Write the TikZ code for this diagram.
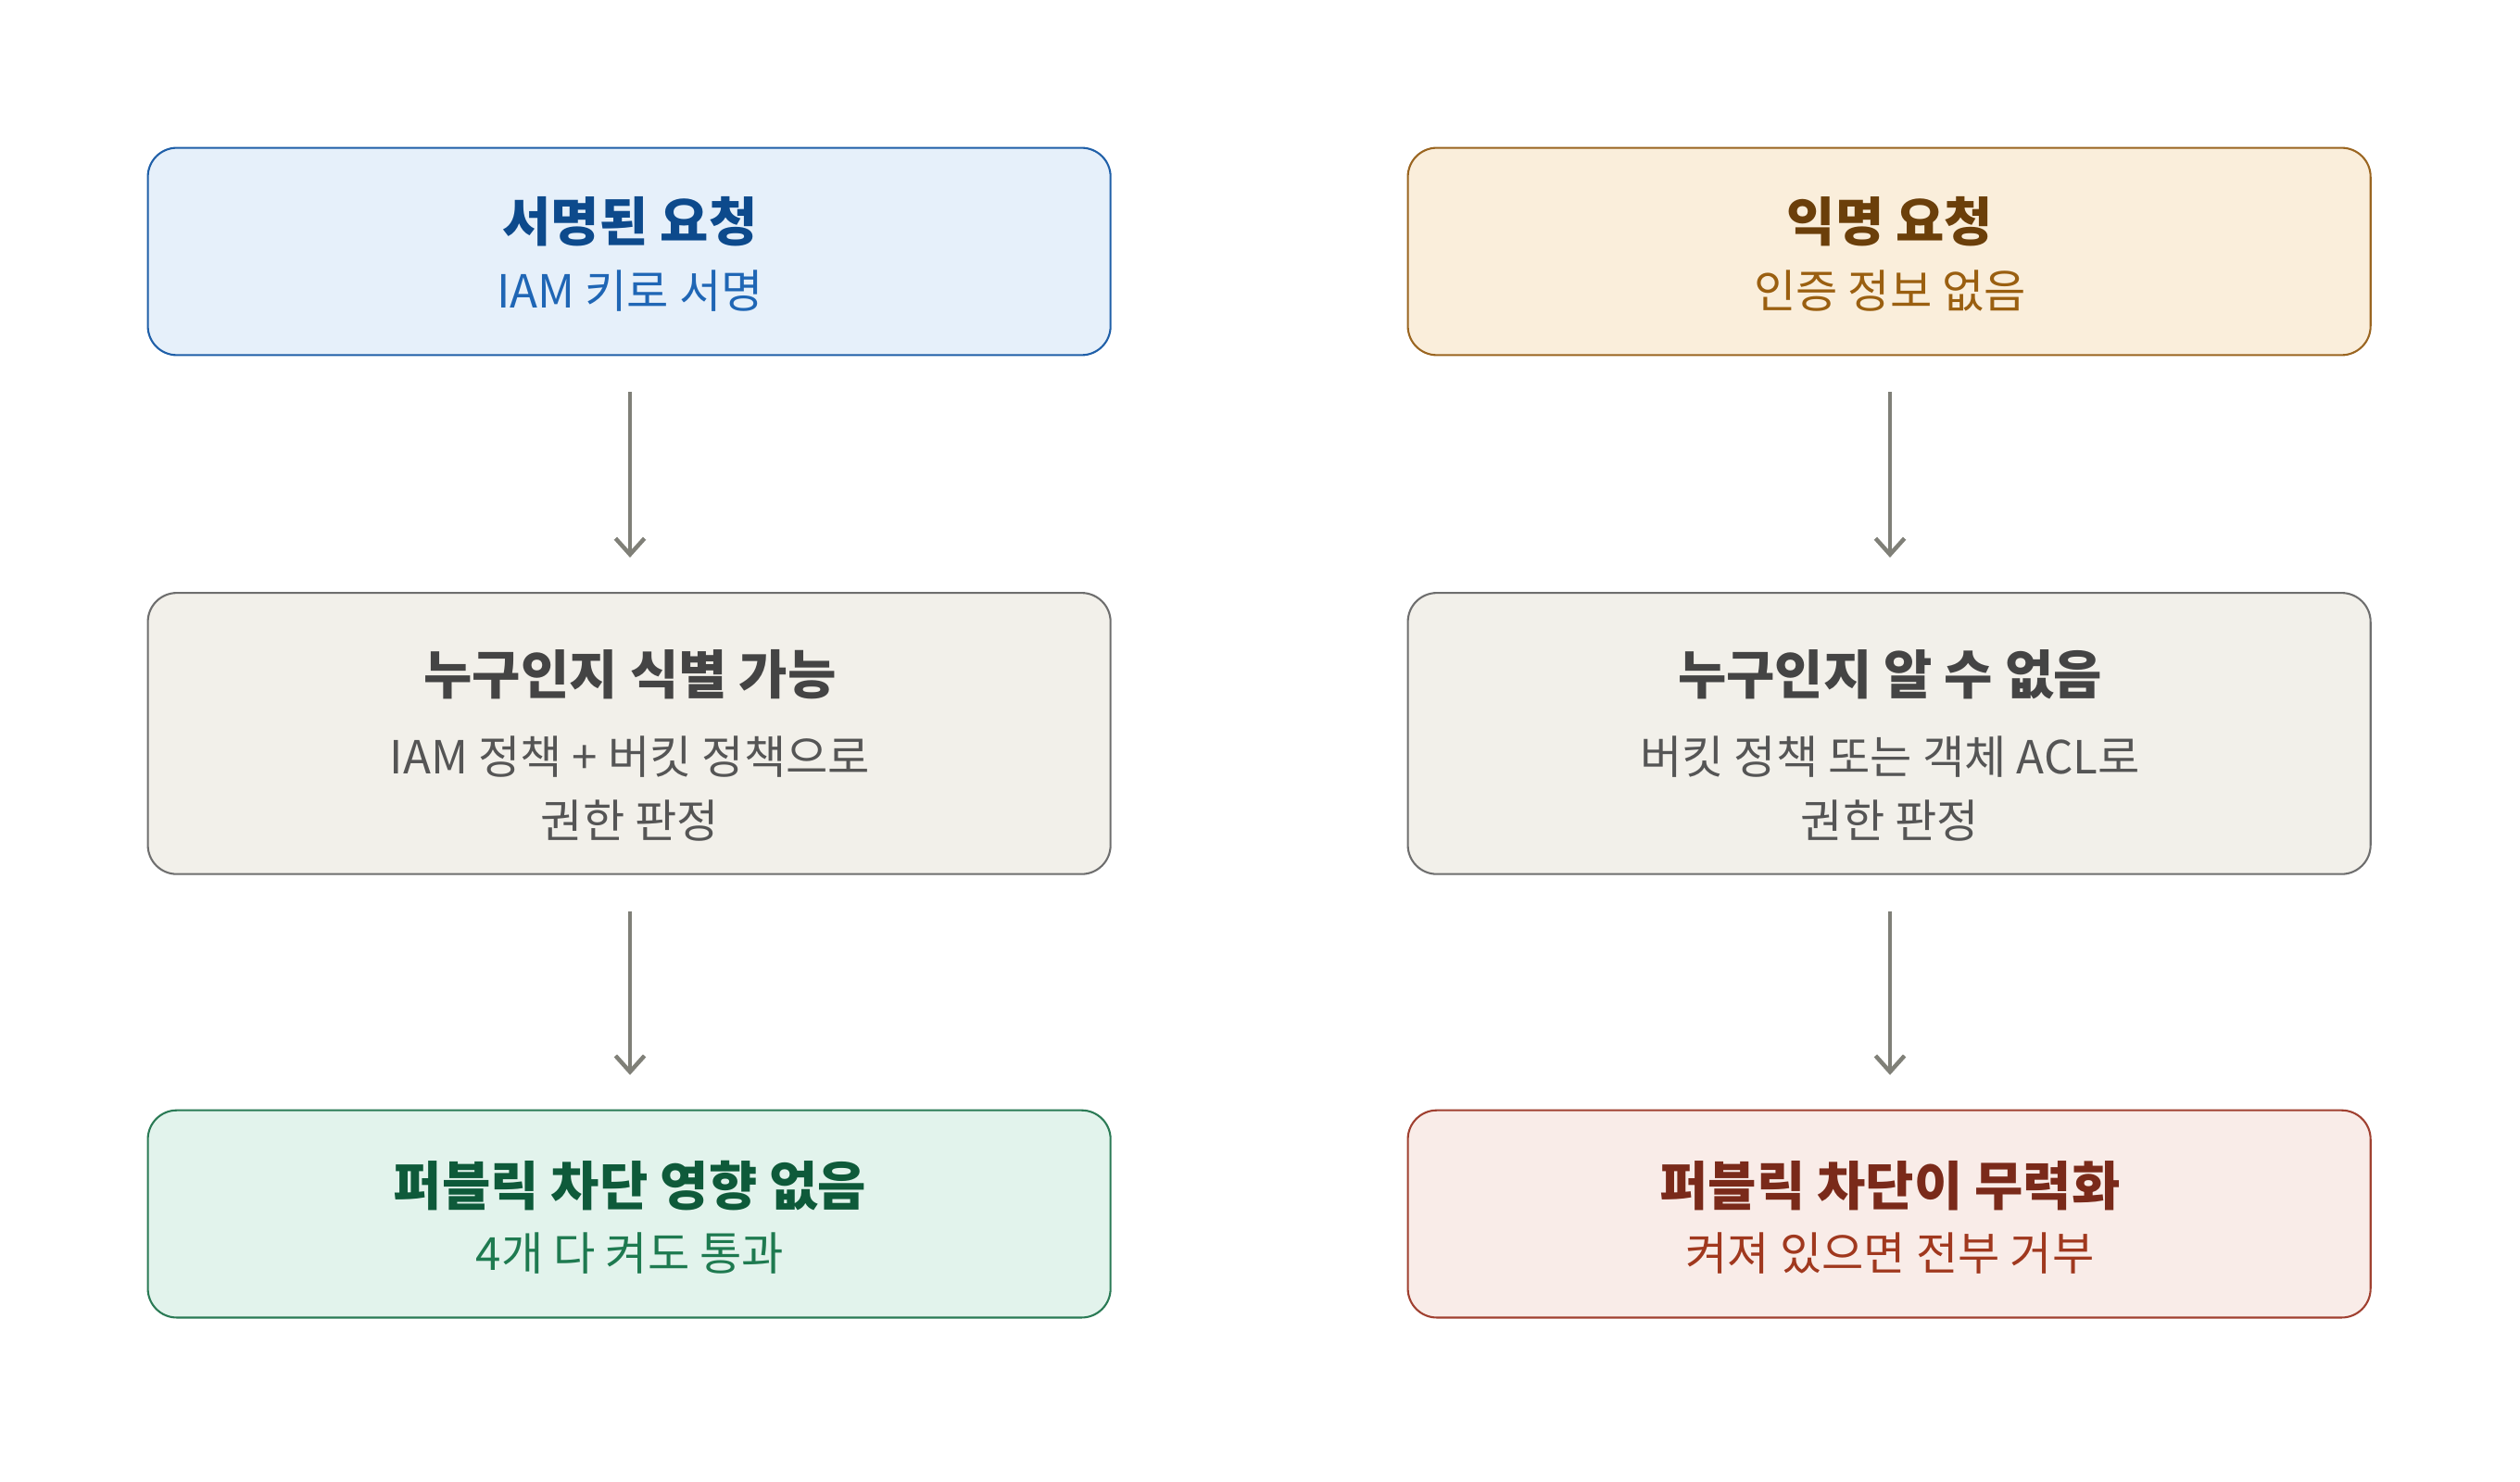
\documentclass[tikz,border=0pt]{standalone}
\usepackage{fontspec}
\setmainfont{Noto Sans CJK KR}
\usetikzlibrary{arrows.meta}
\definecolor{bF}{HTML}{E6F0FA}\definecolor{bD}{HTML}{1F5FA8}\definecolor{bT}{HTML}{0D4A8C}\definecolor{bS}{HTML}{1F66B5}
\definecolor{oF}{HTML}{FAEEDB}\definecolor{oD}{HTML}{9A6520}\definecolor{oT}{HTML}{6B3F0A}\definecolor{oS}{HTML}{9A5F10}
\definecolor{gF}{HTML}{F2F0EA}\definecolor{gD}{HTML}{6E6E6E}\definecolor{gT}{HTML}{444444}\definecolor{gS}{HTML}{555555}
\definecolor{eF}{HTML}{E2F3EC}\definecolor{eD}{HTML}{2A7A55}\definecolor{eT}{HTML}{0E5A3A}\definecolor{eS}{HTML}{1E7A50}
\definecolor{rF}{HTML}{F9ECE8}\definecolor{rD}{HTML}{A04030}\definecolor{rT}{HTML}{7A2A1A}\definecolor{rS}{HTML}{A0381E}
\definecolor{arr}{HTML}{808078}
\begin{document}
\begin{tikzpicture}[x=0.5pt,y=-0.5pt,
 box/.style={draw,line width=0.6pt,rounded corners=9pt},
 ti/.style={font=\fontsize{16.4}{19}\selectfont\bfseries},
 su/.style={font=\fontsize{14.2}{20}\selectfont,align=center},
 ar/.style={draw=arr,line width=1.3pt,-{Straight Barb[length=5pt,width=9pt]}}]
\useasboundingbox (0,0) rectangle (1568,922);
% left
\draw[box,fill=bF,draw=bD] (92,92) rectangle (691,221);
\node[ti,text=bT] (t1) at (392,138) {서명된 요청};
\node[su,text=bS] (s1) at (392,181) {IAM 키로 서명};
\draw[box,fill=gF,draw=gD] (92,369) rectangle (691,544);
\node[ti,text=gT] (t2) at (392,420) {누구인지 식별 가능};
\node[su,text=gS] (s2) at (392,491) {IAM 정책 + 버킷 정책으로\\권한 판정};
\draw[box,fill=eF,draw=eD] (92,691) rectangle (691,820);
\node[ti,text=eT] (t3) at (392,738) {퍼블릭 차단 영향 없음};
\node[su,text=eS] (s3) at (392,780) {4개 다 켜도 통과};
% right
\draw[box,fill=oF,draw=oD] (876,92) rectangle (1475,221);
\node[ti,text=oT] (t4) at (1176,138) {익명 요청};
\node[su,text=oS] (s4) at (1176,181) {인증 정보 없음};
\draw[box,fill=gF,draw=gD] (876,369) rectangle (1475,544);
\node[ti,text=gT] (t5) at (1176,420) {누구인지 알 수 없음};
\node[su,text=gS] (s5) at (1176,491) {버킷 정책 또는 객체 ACL로\\권한 판정};
\draw[box,fill=rF,draw=rD] (876,691) rectangle (1475,820);
\node[ti,text=rT] (t6) at (1176,738) {퍼블릭 차단이 무력화};
\node[su,text=rS] (s6) at (1176,780) {켜져 있으면 전부 거부};
% arrows
\coordinate (a1) at (392,244); \coordinate (a2) at (392,347);
\coordinate (a3) at (392,567); \coordinate (a4) at (392,669);
\coordinate (b1) at (1176,244); \coordinate (b2) at (1176,347);
\coordinate (b3) at (1176,567); \coordinate (b4) at (1176,669);
\draw[ar] (a1)--(a2); \draw[ar] (a3)--(a4);
\draw[ar] (b1)--(b2); \draw[ar] (b3)--(b4);
\end{tikzpicture}
\end{document}
